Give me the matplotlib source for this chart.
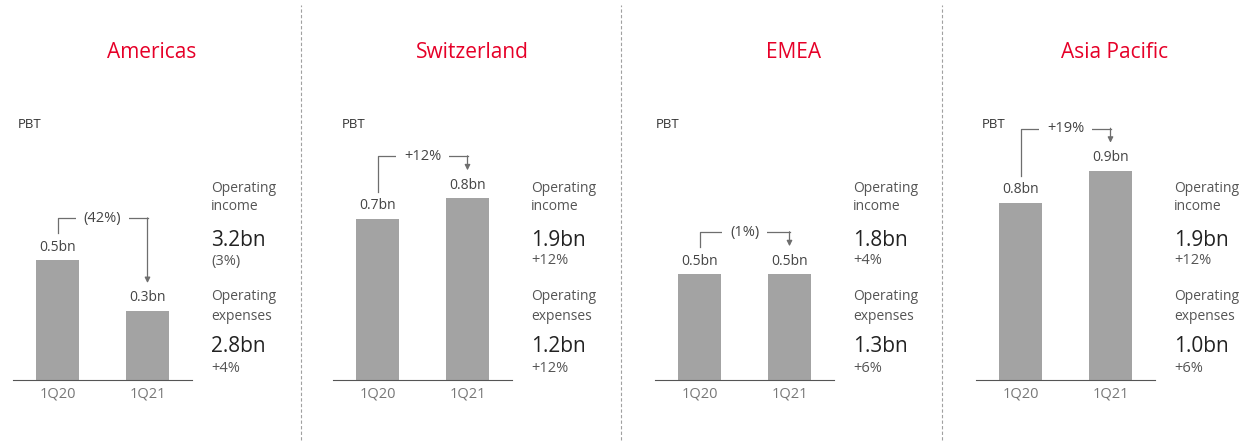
import matplotlib.pyplot as plt
from matplotlib.lines import Line2D

plt.rcParams['font.family'] = ['Open Sans', 'DejaVu Sans']

# data
regions = ['Americas', 'Switzerland', 'EMEA', 'Asia Pacific']
quarters = ['1Q20', '1Q21']
pbt = [[0.52, 0.30], [0.70, 0.79], [0.46, 0.46], [0.77, 0.91]]
pbt_labels = [['0.5bn', '0.3bn'], ['0.7bn', '0.8bn'], ['0.5bn', '0.5bn'], ['0.8bn', '0.9bn']]
pbt_change = ['(42%)', '+12%', '(1%)', '+19%']
op_income = ['3.2bn', '1.9bn', '1.8bn', '1.9bn']
op_income_chg = ['(3%)', '+12%', '+4%', '+12%']
op_expenses = ['2.8bn', '1.2bn', '1.3bn', '1.0bn']
op_expenses_chg = ['+4%', '+12%', '+6%', '+6%']

W, H = 1252, 443
RED = '#e60028'
BAR = '#a3a3a3'
LINE = '#6e6e6e'
PX = 230.0  # pixels per bn

fig = plt.figure(figsize=(W / 100, H / 100), dpi=100)
fig.patch.set_facecolor('white')

def fx(px):
    return px / W

def fy(py):
    return 1 - py / H

offsets = [0, 320, 642, 963]
pbt_x = [18, 342, 656, 982]

for i, name in enumerate(regions):
    off = offsets[i]
    # panel title and labels
    fig.text(fx(152 + off), fy(53), name, color=RED, fontsize=15, ha='center', va='center')
    fig.text(fx(pbt_x[i]), fy(125), 'PBT', color='#333333', fontsize=9.5, ha='left', va='center')

    # bar axes: baseline at y=380, top at y=100
    ax = fig.add_axes([fx(13 + off), fy(380), fx(179), (280) / H])
    ax.bar([0, 1], pbt[i], width=0.48, color=BAR)
    ax.set_xlim((13 - 57.5) / 90, (192 - 57.5) / 90)
    ax.set_ylim(0, 280 / PX)
    for s in ['top', 'right', 'left']:
        ax.spines[s].set_visible(False)
    ax.spines['bottom'].set_color('#555555')
    ax.spines['bottom'].set_linewidth(0.8)
    ax.set_yticks([])
    ax.set_xticks([0, 1])
    ax.set_xticklabels(quarters, color='#777777', fontsize=10.5)
    ax.tick_params(axis='x', length=0, pad=5)
    ax.patch.set_alpha(0)

    v1, v2 = pbt[i]
    for j, v in enumerate(pbt[i]):
        ax.annotate(pbt_labels[i][j], (j, v), xytext=(0, 4), textcoords='offset points',
                    ha='center', va='bottom', fontsize=10, color='#444444')

    # bracket with change
    yb = max(v1, v2) + 42 / PX
    ax.add_line(Line2D([0, 0, 1, 1], [v1 + 27 / PX, yb, yb, yb], color=LINE, lw=0.9, clip_on=False))
    ax.annotate('', xy=(1, v2 + 28 / PX), xytext=(1, yb + 0.002),
                arrowprops=dict(arrowstyle='-|>', color=LINE, lw=0.9,
                                mutation_scale=8, shrinkA=0, shrinkB=0),
                annotation_clip=False)
    ax.text(0.5, yb, pbt_change[i], ha='center', va='center', fontsize=10.5, color='#444444',
            bbox=dict(boxstyle='square,pad=0.55', fc='white', ec='none'), clip_on=False)

    # right-hand figures
    tx = fx(211 + off)
    fig.text(tx, fy(188), 'Operating', color='#555555', fontsize=10, va='center')
    fig.text(tx, fy(207), 'income', color='#555555', fontsize=10, va='center')
    fig.text(tx, fy(240), op_income[i], color='#222222', fontsize=15, va='center')
    fig.text(tx, fy(261), op_income_chg[i], color='#555555', fontsize=10.5, va='center')
    fig.text(tx, fy(297), 'Operating', color='#555555', fontsize=10, va='center')
    fig.text(tx, fy(316), 'expenses', color='#555555', fontsize=10, va='center')
    fig.text(tx, fy(347), op_expenses[i], color='#222222', fontsize=15, va='center')
    fig.text(tx, fy(368), op_expenses_chg[i], color='#555555', fontsize=10.5, va='center')

# dashed separators
for sx in [301, 621, 942]:
    fig.add_artist(Line2D([fx(sx), fx(sx)], [fy(440), fy(5)], color='#a0a0a0',
                          lw=0.8, linestyle=(0, (3, 2))))

fig.savefig('out.png', dpi=100, facecolor='white')
